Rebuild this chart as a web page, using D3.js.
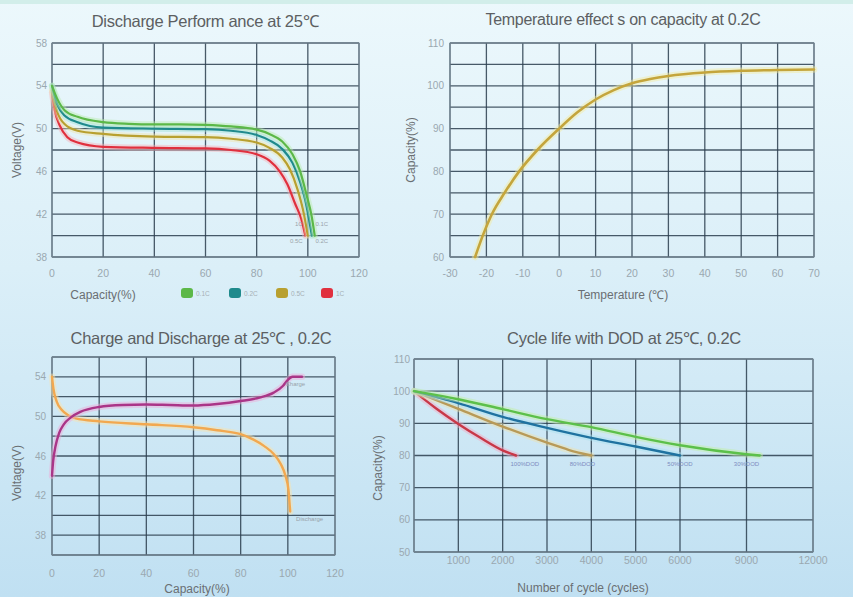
<!DOCTYPE html>
<html><head><meta charset="utf-8">
<script src="https://cdn.jsdelivr.net/npm/d3@7"></script>
<style>
html,body{margin:0;padding:0;background:#dcEEf8;}
svg{display:block;font-family:"Liberation Sans",Arial,sans-serif;}
</style></head>
<body>
<svg id="c" width="853" height="597"></svg>
<script>
// ---------- DATA ----------
// Panel 1: discharge performance at 25°C (capacity %, voltage V)
const dischargeXTicks = [0, 20, 40, 60, 80, 100, 120];
const dischargeYTicks = [38, 42, 46, 50, 54, 58];
const dis01C = [[0,54],[2,52.8],[5,51.7],[10,51.1],[20,50.6],[30,50.45],[40,50.4],[50,50.4],[60,50.35],[70,50.2],[80,49.9],[85,49.5],[90,48.8],[94,47.6],[97,46],[99.5,43.8],[101.5,41.8],[102.7,40]];
const dis02C = [[0,54],[2,52.3],[5,51.2],[10,50.6],[20,50.1],[40,50],[60,49.95],[70,49.8],[80,49.4],[85,48.9],[90,48.1],[94,46.8],[97,45],[99,43.3],[100.5,41.5],[101.6,40]];
const dis05C = [[0,53.6],[2,51.6],[5,50.4],[10,49.8],[20,49.5],[40,49.25],[60,49.2],[70,49.05],[80,48.7],[85,48.2],[90,47.3],[93,46.2],[96,44.3],[98.5,42],[100,40]];
const dis1C  = [[0,53.4],[1,51.8],[3,50.3],[6,49.2],[10,48.7],[20,48.3],[40,48.2],[60,48.15],[70,48],[80,47.6],[85,47],[89,46],[92,44.8],[95,43],[97.5,41.5],[99,40]];
const dischargeNames = ["0.1C", "0.2C", "0.5C", "1C"];

// Panel 2: temperature effects on capacity (°C, %)
const tempXTicks = [-30,-20,-10,0,10,20,30,40,50,60,70];
const tempYTicks = [60,70,80,90,100,110];
const tempCurve = [[-23.1,60],[-21,65],[-18.5,70],[-15,75],[-11,80],[-6,85],[0,90],[5,93.8],[10,96.8],[15,99],[20,100.6],[25,101.6],[30,102.3],[40,103.1],[50,103.5],[60,103.7],[70,103.8]];

// Panel 3: charge / discharge at 25°C 0.2C (capacity %, voltage V)
const cdXTicks = [0,20,40,60,80,100,120];
const cdYTicks = [38,42,46,50,54];
const chargeCurve = [[0,44],[0.5,45.5],[1.5,47],[3,48.3],[5,49.2],[8,49.9],[12,50.45],[20,50.95],[30,51.15],[40,51.2],[50,51.15],[60,51.1],[70,51.25],[80,51.55],[88,51.9],[94,52.4],[98,53.1],[100,53.7],[102,54],[106,54]];
const dischargeCurve = [[0,54],[0.6,52.8],[2,51.5],[4,50.7],[7,50.1],[10,49.8],[20,49.5],[40,49.2],[60,48.9],[70,48.6],[80,48.2],[85,47.7],[90,47],[94,46.2],[97,45.2],[99,44],[100.3,42.5],[100.8,41],[101,40.4]];

// Panel 4: cycle life with DOD (cycles, capacity %)
const cycleXTicks = [1000,2000,3000,4000,5000,6000,9000,12000];
const cycleYTicks = [50,60,70,80,90,100,110];
const cycle100 = [[0,100],[500,94.6],[1000,89.8],[1500,85.5],[2000,81.6],[2300,80]];
const cycle80  = [[0,100],[1000,94.5],[2000,89],[3000,84],[3500,81.7],[4000,80]];
const cycle50  = [[0,100],[1000,96.3],[2000,92],[3000,88.6],[4000,85.5],[5000,82.8],[6000,80]];
const cycle30  = [[0,100],[1000,97.5],[2000,94.4],[3000,91.3],[4000,88.8],[5000,85.8],[6000,83.2],[9000,80.4],[9600,80]];
const cycleNames = ["100%DOD", "80%DOD", "50%DOD", "30%DOD"];

// ---------- DRAWING ----------
const svg = d3.select("#c");
const defs = svg.append("defs");
const bg = defs.append("linearGradient").attr("id","bg").attr("x1",0).attr("y1",0).attr("x2",0).attr("y2",1);
bg.append("stop").attr("offset","0%").attr("stop-color","#ecf8fc");
bg.append("stop").attr("offset","45%").attr("stop-color","#dbeff8");
bg.append("stop").attr("offset","100%").attr("stop-color","#c0e0f2");
svg.append("rect").attr("width",853).attr("height",597).attr("fill","url(#bg)");
svg.append("rect").attr("width",853).attr("height",4).attr("fill","#d2eeea");

const gridColor = "#2c3f4f";
const tickColor = "#9aa8b0";
const textColor = "#6a6f73";

function panel(cfg){
  const g = svg.append("g");
  const x = cfg.x, y = cfg.y;
  const [x0,x1] = [x.range()[0], x.range()[x.range().length-1]];
  const [yb,yt] = y.range();
  g.selectAll("line.v").data(cfg.xGrid).enter().append("line")
    .attr("x1",d=>x(d)).attr("x2",d=>x(d)).attr("y1",yt).attr("y2",yb)
    .attr("stroke",gridColor).attr("stroke-width",1.3).attr("opacity",0.85);
  g.selectAll("line.h").data(cfg.yGrid).enter().append("line")
    .attr("x1",x0).attr("x2",x1).attr("y1",d=>y(d)).attr("y2",d=>y(d))
    .attr("stroke",gridColor).attr("stroke-width",1.3).attr("opacity",0.85);
  g.append("rect").attr("x",x0).attr("y",yt).attr("width",x1-x0).attr("height",yb-yt)
    .attr("fill","none").attr("stroke","#7e8f9b").attr("stroke-width",1);
  g.selectAll("text.xt").data(cfg.xTicks).enter().append("text")
    .attr("x",d=>x(d)).attr("y",cfg.xTickY).attr("text-anchor","middle")
    .attr("font-size",10.5).attr("fill",tickColor).text(d=>d);
  g.selectAll("text.yt").data(cfg.yTicks).enter().append("text")
    .attr("x",x0-cfg.yTickPad).attr("y",d=>y(d)+3.5).attr("text-anchor","end")
    .attr("font-size",10).attr("fill",tickColor).text(d=>d);
  g.append("text").attr("x",cfg.titleX).attr("y",cfg.titleY).attr("text-anchor","middle")
    .attr("font-size",cfg.titleSize||16.5).attr("fill","#5c5f62").attr("letter-spacing",-0.3).text(cfg.title);
  g.append("text").attr("x",cfg.xTitleX).attr("y",cfg.xTitleY).attr("text-anchor","middle")
    .attr("font-size",12).attr("fill",textColor).text(cfg.xTitle);
  g.append("text").attr("transform",`translate(${cfg.yTitleX},${cfg.yTitleY}) rotate(-90)`)
    .attr("text-anchor","middle").attr("font-size",12).attr("fill",textColor).text(cfg.yTitle);
  return g;
}

function drawLine(g, x, y, data, color, halo, w){
  const line = d3.line().x(d=>x(d[0])).y(d=>y(d[1])).curve(d3.curveMonotoneX);
  g.append("path").attr("d",line(data)).attr("fill","none").attr("stroke",halo)
    .attr("stroke-width",(w||2.4)+4).attr("stroke-linecap","round").attr("opacity",0.45);
  g.append("path").attr("d",line(data)).attr("fill","none").attr("stroke",color)
    .attr("stroke-width",w||2.4).attr("stroke-linecap","round").attr("stroke-linejoin","round");
}

// Panel 1
{
  const x = d3.scaleLinear().domain([0,120]).range([52,359]);
  const y = d3.scaleLinear().domain([38,58]).range([257,43]);
  const g = panel({x,y,xGrid:d3.range(0,121,20),yGrid:d3.range(38,59,2),xTicks:dischargeXTicks,yTicks:dischargeYTicks,
    xTickY:277,yTickPad:5,title:"Discharge Perform ance at 25℃",titleX:205,titleY:27,
    xTitle:"Capacity(%)",xTitleX:103,xTitleY:299,yTitle:"Voltage(V)",yTitleX:21,yTitleY:150});
  const series = [dis1C, dis05C, dis02C, dis01C];
  const colors = ["#e0303e","#b8a030","#1f8a8c","#5cb848"];
  const halos = ["#f7b0b5","#f2e4a8","#9fe0d8","#b8ecaa"];
  series.forEach((s,i)=>drawLine(g,x,y,s,colors[i],halos[i],2.2));
  g.append("text").attr("x",x(98)).attr("y",y(40.9)).attr("font-size",6).attr("fill","#9aa4aa").attr("text-anchor","end").text("1C");
  g.append("text").attr("x",x(103)).attr("y",y(40.9)).attr("font-size",6).attr("fill","#9aa4aa").text("0.1C");
  g.append("text").attr("x",x(98)).attr("y",y(39.3)).attr("font-size",6).attr("fill","#9aa4aa").attr("text-anchor","end").text("0.5C");
  g.append("text").attr("x",x(103)).attr("y",y(39.3)).attr("font-size",6).attr("fill","#9aa4aa").text("0.2C");
  const legColors = ["#5cb848","#1f8a8c","#b8a030","#e0303e"];
  const lx = [181,229,276,321];
  dischargeNames.forEach((n,i)=>{
    g.append("rect").attr("x",lx[i]).attr("y",288).attr("width",12).attr("height",10).attr("rx",3)
      .attr("fill",legColors[i]);
    g.append("text").attr("x",lx[i]+15).attr("y",296).attr("font-size",6.5).attr("fill","#a6b0b6").text(n);
  });
}

// Panel 2
{
  const x = d3.scaleLinear().domain([-30,70]).range([450,814]);
  const y = d3.scaleLinear().domain([60,110]).range([257,43]);
  const g = panel({x,y,xGrid:d3.range(-30,71,10),yGrid:d3.range(60,111,5),xTicks:tempXTicks,yTicks:tempYTicks,
    xTickY:277,yTickPad:6,title:"Temperature effect s on capacity at 0.2C",titleX:623,titleY:25,titleSize:16,
    xTitle:"Temperature (℃)",xTitleX:623,xTitleY:299,yTitle:"Capacity(%)",yTitleX:415,yTitleY:150});
  drawLine(g,x,y,tempCurve,"#c4a53c","#f4ec9c",2.6);
}

// Panel 3
{
  const x = d3.scaleLinear().domain([0,120]).range([52,335]);
  const y = d3.scaleLinear().domain([36,56]).range([555,357]);
  const g = panel({x,y,xGrid:d3.range(0,121,20),yGrid:d3.range(36,57,2),xTicks:cdXTicks,yTicks:cdYTicks,
    xTickY:577,yTickPad:6,title:"Charge and Discharge at 25℃ , 0.2C",titleX:201,titleY:344,
    xTitle:"Capacity(%)",xTitleX:197,xTitleY:593,yTitle:"Voltage(V)",yTitleX:21,yTitleY:473});
  drawLine(g,x,y,dischargeCurve,"#f2a850","#fbe2a8",2.4);
  drawLine(g,x,y,chargeCurve,"#aa3588","#f0a8d8",2.4);
  g.append("text").attr("x",x(99)).attr("y",y(53.05)).attr("font-size",6).attr("fill","#98a2aa").text("Charge");
  g.append("text").attr("x",x(103.5)).attr("y",y(39.4)).attr("font-size",6).attr("fill","#98a2aa").text("Discharge");
}

// Panel 4
{
  const x = d3.scaleLinear().domain([0,6000,12000]).range([414,680,813]);
  const y = d3.scaleLinear().domain([50,110]).range([552,359]);
  const g = panel({x,y,xGrid:[0].concat(cycleXTicks),yGrid:d3.range(50,111,10),xTicks:cycleXTicks,yTicks:cycleYTicks,
    xTickY:564,yTickPad:4,title:"Cycle life with DOD  at 25℃, 0.2C",titleX:624,titleY:344,
    xTitle:"Number of cycle (cycles)",xTitleX:583,xTitleY:592,yTitle:"Capacity(%)",yTitleX:382,yTitleY:468});
  const series = [cycle100, cycle80, cycle50, cycle30];
  const colors = ["#c83848","#b89a58","#1f72a0","#5cc04a"];
  const halos = ["#f4a8c0","#f0e0a8","#a8dff0","#c0f0a0"];
  series.forEach((s,i)=>drawLine(g,x,y,s,colors[i],halos[i],2.4));
  const lxv = [2500, 3800, 6000, 9000];
  cycleNames.forEach((n,i)=>{
    g.append("text").attr("x",x(lxv[i])).attr("y",y(76.8)).attr("text-anchor","middle")
      .attr("font-size",6).attr("fill","#7c8cc0").text(n);
  });
}
</script>
</body></html>
